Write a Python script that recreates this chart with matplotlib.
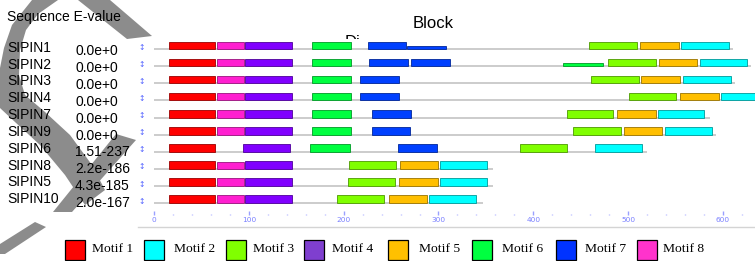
import matplotlib
matplotlib.use("Agg")
import matplotlib.pyplot as plt
from matplotlib.patches import Rectangle, Polygon
from matplotlib.lines import Line2D
from matplotlib.colors import to_rgb

# ---------------- data ----------------
sequences = ["SIPIN1", "SIPIN2", "SIPIN3", "SIPIN4", "SIPIN7",
             "SIPIN9", "SIPIN6", "SIPIN8", "SIPIN5", "SIPIN10"]
evalues = ["0.0e+0", "0.0e+0", "0.0e+0", "0.0e+0", "0.0e+0",
           "0.0e+0", "1.51-237", "2.2e-186", "4.3e-185", "2.0e-167"]
seq_lengths = [611, 630, 613, 655, 586, 593, 520, 357, 358, 347]

motif_labels = ["Motif 1", "Motif 2", "Motif 3", "Motif 4",
                "Motif 5", "Motif 6", "Motif 7", "Motif 8"]

# motif hits: sequence index, motif number, start, end, relative height
hit_seq = [0, 0, 0, 0, 0, 0, 0, 0, 0,
           1, 1, 1, 1, 1, 1, 1, 1, 1, 1,
           2, 2, 2, 2, 2, 2, 2, 2,
           3, 3, 3, 3, 3, 3, 3, 3,
           4, 4, 4, 4, 4, 4, 4, 4,
           5, 5, 5, 5, 5, 5, 5, 5,
           6, 6, 6, 6, 6, 6,
           7, 7, 7, 7, 7, 7,
           8, 8, 8, 8, 8, 8,
           9, 9, 9, 9, 9, 9]
hit_motif = [1, 8, 4, 6, 7, 7, 3, 5, 2,
             1, 8, 4, 6, 7, 7, 6, 3, 5, 2,
             1, 8, 4, 6, 7, 3, 5, 2,
             1, 8, 4, 6, 7, 3, 5, 2,
             1, 8, 4, 6, 7, 3, 5, 2,
             1, 8, 4, 6, 7, 3, 5, 2,
             1, 4, 6, 7, 3, 2,
             1, 8, 4, 3, 5, 2,
             1, 8, 4, 3, 5, 2,
             1, 8, 4, 3, 5, 2]
hit_start = [16, 66, 96, 167, 226, 267, 459, 513, 556,
             16, 66, 96, 167, 227, 271, 431, 479, 533, 576,
             16, 66, 96, 167, 217, 461, 514, 558,
             16, 66, 96, 167, 217, 501, 555, 598,
             16, 66, 96, 167, 230, 435, 488, 531,
             16, 66, 96, 167, 230, 442, 496, 539,
             16, 94, 165, 257, 386, 465,
             16, 66, 96, 206, 259, 302,
             16, 66, 96, 205, 258, 302,
             16, 66, 96, 193, 248, 290]
hit_end = [64, 95, 145, 208, 266, 308, 509, 554, 606,
           64, 95, 145, 208, 268, 312, 473, 529, 573, 625,
           64, 95, 145, 208, 258, 511, 555, 608,
           64, 95, 145, 208, 258, 550, 596, 648,
           64, 95, 145, 208, 271, 484, 529, 580,
           64, 95, 145, 208, 270, 492, 536, 588,
           64, 143, 207, 298, 436, 515,
           64, 95, 145, 255, 300, 351,
           64, 95, 145, 254, 299, 351,
           64, 95, 145, 243, 288, 340]
hit_height = [1, 1, 1, 1, 1, 0.45, 1, 1, 1,
              1, 1, 1, 1, 1, 1, 0.45, 1, 1, 1,
              1, 1, 1, 1, 1, 1, 1, 1,
              1, 1, 1, 1, 1, 1, 1, 1,
              1, 1, 1, 1, 1, 1, 1, 1,
              1, 1, 1, 1, 1, 1, 1, 1,
              1, 1, 1, 1, 1, 1,
              1, 0.85, 1, 1, 1, 1,
              1, 1, 1, 1, 1, 1,
              1, 1, 1, 1, 1, 1]

axis_ticks = [0, 100, 200, 300, 400, 500, 600]

# ---------------- styles ----------------
bar_colors = ["#ff0000", "#00ffff", "#80ff00", "#8000ff",
              "#ffbf00", "#00ff40", "#0040ff", "#ff1fd0"]
legend_colors = ["#ff0000", "#00ffff", "#80ff00", "#7f3fcf",
                 "#ffc000", "#00ff40", "#0033ff", "#ff33cc"]

W, H = 755, 261
fig = plt.figure(figsize=(W / 100, H / 100), dpi=100)
fig.patch.set_facecolor("white")


def fx(x):
    return x / W


def fy(y):
    return 1 - y / H


# grey watermark (background decoration)
wm_color = "#8c8c8c"
wm_polys = [
    # top arc flowing into the middle diagonal
    [(32, 0), (58, 0), (38, 14), (26, 30), (20, 50), (19, 75), (25, 95),
     (45, 112), (70, 135), (92, 165), (105, 190), (85, 205), (65, 175),
     (40, 145), (15, 122), (0, 108), (0, 68), (4, 48), (12, 25)],
    # top right terminal
    [(78, 0), (110, 0), (152, 36), (127, 39)],
    # right stroke of the lower V
    [(116, 134), (136, 140), (72, 212), (53, 212)],
    # bottom piece
    [(35, 222), (46, 227), (5, 254), (0, 254), (0, 244)],
]
for poly in wm_polys:
    fig.add_artist(Polygon([(fx(x), fy(y)) for x, y in poly], closed=True,
                           transform=fig.transFigure, facecolor=wm_color,
                           edgecolor="none", zorder=-2))

# partially hidden "Diagram" text under the plot area (only "Di" shows)
diag = fig.text(fx(345), fy(47.5), "Diagram", fontsize=12,
                family="Liberation Sans", ha="left", va="baseline", zorder=-1)
clip_rect = Rectangle((fx(340), fy(40)), 20 / W, 10 / H,
                      transform=fig.transFigure)
diag.set_clip_path(clip_rect)

# ---------------- diagram axes ----------------
px_per_unit = 0.9483
x0_px = 154
row0_px = 45.5
row_px = 17.06
ax_left, ax_right, ax_top, ax_bottom = 138, 755, 39, 215
ax = fig.add_axes([fx(ax_left), fy(ax_bottom), (ax_right - ax_left) / W,
                   (ax_bottom - ax_top) / H])
ax.set_facecolor("white")
ax.set_xlim((ax_left - x0_px) / px_per_unit, (ax_right - x0_px) / px_per_unit)
ax.set_ylim((ax_bottom - row0_px) / row_px, (ax_top - row0_px) / row_px)
for s in ax.spines.values():
    s.set_visible(False)
ax.set_yticks([])

base_off = 3.8 / row_px
full_h = 7.5 / row_px

for i, L in enumerate(seq_lengths):
    ax.plot([0, L], [i + base_off, i + base_off], color="#c8c8c8", lw=1.3,
            solid_capstyle="butt", zorder=1)
    ax.text((142 - x0_px) / px_per_unit, i + 0.12, "\u2195", fontsize=5.5,
            color="#5060ff", ha="center", va="center", clip_on=False)

for s, m, a, b, h in zip(hit_seq, hit_motif, hit_start, hit_end, hit_height):
    hh = full_h * h
    c = bar_colors[m - 1]
    ec = tuple(v * 0.6 for v in to_rgb(c))
    ax.barh(s + base_off - hh / 2, b - a, left=a, height=hh, color=c,
            edgecolor=ec, linewidth=0.6, zorder=2)

ax.set_xticks(axis_ticks)
ax.set_xticks(range(0, 621, 20), minor=True)
ax.tick_params(axis="x", which="major", direction="in", length=3, width=1,
               color="#9aa0ff", labelsize=5.3, labelcolor="#7a80ff", pad=1.8)
ax.tick_params(axis="x", which="minor", direction="in", length=1, width=1,
               color="#b0b4ff")

# baseline separator
fig.add_artist(Line2D([fx(138), fx(755)], [fy(227), fy(227)],
                      transform=fig.transFigure, color="#d4d4d4", lw=1))

# ---------------- left labels ----------------
sans = "Liberation Sans"
fig.text(fx(7), fy(21), "Sequence E-value", fontsize=10, family=sans,
         ha="left", va="baseline")
fig.text(fx(433), fy(28), "Block", fontsize=12, family=sans,
         ha="center", va="baseline")
for i, (name, ev) in enumerate(zip(sequences, evalues)):
    fig.text(fx(7), fy(51.7 + 16.85 * i), name, fontsize=10, family=sans,
             ha="left", va="baseline")
    fig.text(fx(75), fy(55 + 16.9 * i), ev, fontsize=10, family=sans,
             ha="left", va="baseline")

# ---------------- legend ----------------
sq_x = [65, 144, 226, 304, 388, 472, 556, 637]
tx_x = [92, 174, 253, 332, 419, 502, 585, 663]
for lab, col, sx, tx in zip(motif_labels, legend_colors, sq_x, tx_x):
    fig.add_artist(Rectangle((fx(sx), fy(260)), 20 / W, 20 / H,
                             transform=fig.transFigure, facecolor=col,
                             edgecolor="black", lw=0.9))
    fig.text(fx(tx), fy(251.5), lab, fontsize=9.7, family="Liberation Serif",
             ha="left", va="baseline")

fig.savefig("out.png", dpi=100)
